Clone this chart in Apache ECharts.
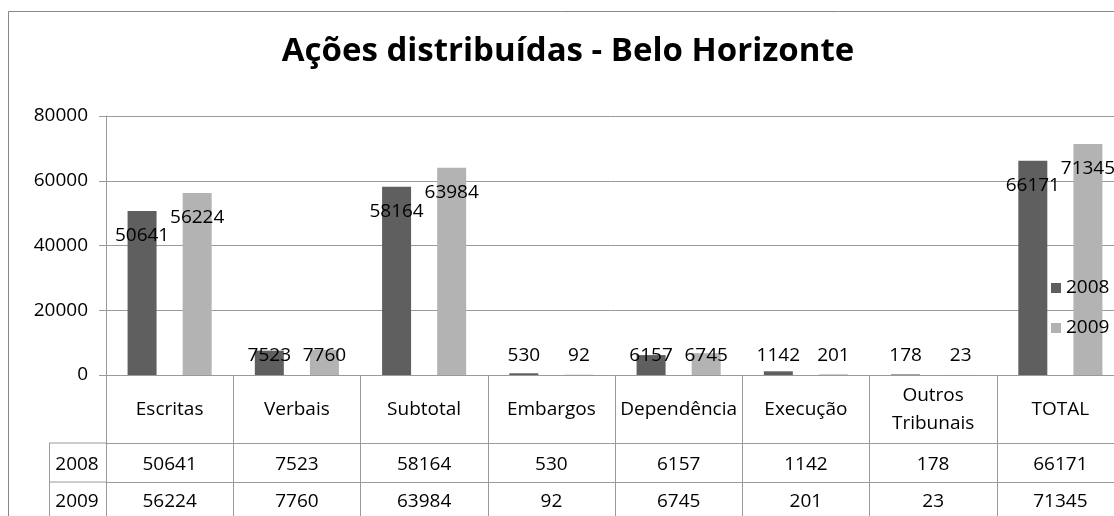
<!DOCTYPE html>
<html>
<head>
<meta charset="utf-8">
<script src="https://cdn.jsdelivr.net/npm/echarts@6/dist/echarts.min.js"></script>
<style>
html,body{margin:0;padding:0;background:#fff;}
#chart{width:1114px;height:516px;}
</style>
</head>
<body>
<div id="chart"></div>
<script>
const titleText = 'Ações distribuídas - Belo Horizonte';
const categories = ['Escritas', 'Verbais', 'Subtotal', 'Embargos', 'Dependência', 'Execução', 'Outros\nTribunais', 'TOTAL'];
const seriesNames = ['2008', '2009'];
const values2008 = [50641, 7523, 58164, 530, 6157, 1142, 178, 66171];
const values2009 = [56224, 7760, 63984, 92, 6745, 201, 23, 71345];
const yMin = 0, yMax = 80000, yStep = 20000;

const FONT = 'Open Sans';
const GRAY = '#9a9a9a';
const colors = ['#5f5f5f', '#b3b3b3'];

function barData(values) {
  return values.map(v => ({
    value: v,
    label: v < 10000
      ? { position: 'insideBottom', distance: 9 }
      : { position: 'insideTop', distance: 15 }
  }));
}

const chart = echarts.init(document.getElementById('chart'), null, {renderer: 'canvas'});
const option = {
  animation: false,
  backgroundColor: '#fff',
  title: {
    text: titleText,
    left: 563,
    textAlign: 'center',
    top: 30,
    textStyle: {fontFamily: FONT, fontWeight: 'bold', fontSize: 33, color: '#000'}
  },
  legend: {
    orient: 'vertical',
    left: 1046,
    top: 273,
    itemWidth: 10,
    itemHeight: 10,
    itemGap: 20,
    icon: 'rect',
    data: seriesNames,
    textStyle: {fontFamily: FONT, fontSize: 19, color: '#000', lineHeight: 20}
  },
  grid: {left: 106, width: 1018, top: 116, height: 259, containLabel: false, outerBoundsMode: 'none'},
  yAxis: {
    type: 'value',
    min: yMin, max: yMax, interval: yStep,
    axisLine: {show: true, lineStyle: {color: GRAY, width: 1}},
    axisTick: {show: true, length: 7, lineStyle: {color: GRAY}},
    splitLine: {show: true, lineStyle: {color: GRAY, width: 1}},
    axisLabel: {fontFamily: FONT, fontSize: 19, color: '#000', margin: 18, formatter: v => String(v)}
  },
  xAxis: [
    {
      type: 'category',
      data: categories,
      position: 'bottom',
      axisLine: {show: true, lineStyle: {color: GRAY, width: 1}},
      axisTick: {show: true, interval: 0, length: 160, lineStyle: {color: GRAY}},
      axisLabel: {fontFamily: FONT, fontSize: 19, color: '#000', margin: 35, verticalAlign: 'middle', lineHeight: 28, interval: 0}
    },
    {
      type: 'category',
      data: categories,
      position: 'bottom',
      offset: 68,
      axisLine: {show: true, lineStyle: {color: GRAY, width: 1}},
      axisTick: {show: false},
      axisLabel: {fontFamily: FONT, fontSize: 19, color: '#000', margin: 22, verticalAlign: 'middle', interval: 0,
        formatter: (v, i) => String(values2008[i])}
    },
    {
      type: 'category',
      data: categories,
      position: 'bottom',
      offset: 107,
      axisLine: {show: true, lineStyle: {color: GRAY, width: 1}},
      axisTick: {show: false},
      axisLabel: {fontFamily: FONT, fontSize: 19, color: '#000', margin: 20, verticalAlign: 'middle', interval: 0,
        formatter: (v, i) => String(values2009[i])}
    }
  ],
  series: [
    {
      name: seriesNames[0], type: 'bar', xAxisIndex: 0,
      data: barData(values2008),
      barWidth: 29, barGap: '90%',
      itemStyle: {color: colors[0]},
      label: {show: true, fontFamily: FONT, fontSize: 19, color: '#000', lineHeight: 20}
    },
    {
      name: seriesNames[1], type: 'bar', xAxisIndex: 0,
      data: barData(values2009),
      barWidth: 29, barGap: '90%',
      itemStyle: {color: colors[1]},
      label: {show: true, fontFamily: FONT, fontSize: 19, color: '#000', lineHeight: 20}
    }
  ],
  graphic: [
    {type: 'rect', shape: {x: 8.5, y: 11.5, width: 1200, height: 600}, style: {fill: 'none', stroke: '#888', lineWidth: 1}, z: -10, silent: true},
    {type: 'line', shape: {x1: 49, y1: 443, x2: 106, y2: 443}, style: {stroke: GRAY, lineWidth: 1}},
    {type: 'line', shape: {x1: 49, y1: 482, x2: 106, y2: 482}, style: {stroke: GRAY, lineWidth: 1}},
    {type: 'line', shape: {x1: 49.5, y1: 443, x2: 49.5, y2: 530}, style: {stroke: GRAY, lineWidth: 1}},
    {type: 'text', x: 77, y: 465, style: {text: seriesNames[0], fontFamily: FONT, fontSize: 19, fill: '#000', textAlign: 'center', textVerticalAlign: 'middle'}},
    {type: 'text', x: 77, y: 502, style: {text: seriesNames[1], fontFamily: FONT, fontSize: 19, fill: '#000', textAlign: 'center', textVerticalAlign: 'middle'}}
  ]
};
chart.setOption(option);
</script>
</body>
</html>
